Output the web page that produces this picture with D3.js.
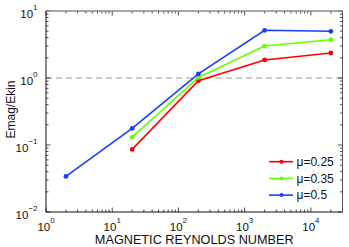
<!DOCTYPE html>
<html><head><meta charset="utf-8">
<script src="https://cdn.jsdelivr.net/npm/d3@7"></script>
<style>body{margin:0;background:#fff}svg{display:block;font-family:"Liberation Sans",Arial,sans-serif}</style>
</head><body><svg id="c" width="349" height="247"></svg>
<script>
const xs = [2, 20, 200, 2000, 20000];
const seriesNames = ["μ=0.25", "μ=0.35", "μ=0.5"];
const seriesColors = ["#ff0000", "#66ff00", "#1a3cff"];
const mu025 = [null, 0.086, 0.91, 1.86, 2.36];
const mu035 = [null, 0.131, 1.02, 3.0, 3.73];
const mu05 = [0.034, 0.177, 1.15, 5.15, 4.98];
const allSeries = [mu025, mu035, mu05];
const xTickExps = [0, 1, 2, 3, 4];
const yTickExps = [-2, -1, 0, 1];
const xDomain = [1, 30000];
const yDomain = [0.01, 10];

const svg = d3.select("#c");
const L = 46, R = 342.5, T = 11, B = 212;
const x = d3.scaleLog().domain(xDomain).range([L, R]);
const y = d3.scaleLog().domain(yDomain).range([B, T]);

svg.append("line").attr("x1", L).attr("x2", R).attr("y1", y(1)).attr("y2", y(1))
  .attr("stroke", "#999").attr("stroke-width", 1.2).attr("stroke-dasharray", "6,4");

const xMinor = [], yMinor = [];
for (let e = 0; e <= 4; e++) for (let m = 2; m <= 9; m++) { const v = m * Math.pow(10, e); if (v <= xDomain[1]) xMinor.push(v); }
for (let e = -2; e <= 0; e++) for (let m = 2; m <= 9; m++) yMinor.push(m * Math.pow(10, e));
const tk = svg.append("g").attr("stroke", "#222").attr("stroke-width", 0.8);
xMinor.forEach(v => { tk.append("line").attr("x1", x(v)).attr("x2", x(v)).attr("y1", B).attr("y2", B - 2.5);
  tk.append("line").attr("x1", x(v)).attr("x2", x(v)).attr("y1", T).attr("y2", T + 2.5); });
xTickExps.forEach(e => { const v = Math.pow(10, e); tk.append("line").attr("x1", x(v)).attr("x2", x(v)).attr("y1", B).attr("y2", B - 4.5);
  tk.append("line").attr("x1", x(v)).attr("x2", x(v)).attr("y1", T).attr("y2", T + 4.5); });
yMinor.forEach(v => { tk.append("line").attr("y1", y(v)).attr("y2", y(v)).attr("x1", L).attr("x2", L + 2.5);
  tk.append("line").attr("y1", y(v)).attr("y2", y(v)).attr("x1", R).attr("x2", R - 2.5); });
yTickExps.forEach(e => { const v = Math.pow(10, e); tk.append("line").attr("y1", y(v)).attr("y2", y(v)).attr("x1", L).attr("x2", L + 4.5);
  tk.append("line").attr("y1", y(v)).attr("y2", y(v)).attr("x1", R).attr("x2", R - 4.5); });

const line = d3.line().defined(d => d[1] != null).x(d => x(d[0])).y(d => y(d[1]));
allSeries.forEach((s, i) => {
  const pts = xs.map((v, j) => [v, s[j]]);
  svg.append("path").attr("d", line(pts)).attr("fill", "none").attr("stroke", seriesColors[i]).attr("stroke-width", 1.6);
  svg.selectAll(null).data(pts.filter(d => d[1] != null)).enter().append("circle")
    .attr("cx", d => x(d[0])).attr("cy", d => y(d[1])).attr("r", 2.4).attr("fill", seriesColors[i]);
});

svg.append("line").attr("x1", L).attr("x2", R).attr("y1", T).attr("y2", T).attr("stroke", "#888").attr("stroke-width", 1.5);
svg.append("line").attr("x1", R).attr("x2", R).attr("y1", T).attr("y2", B).attr("stroke", "#555").attr("stroke-width", 1);
svg.append("line").attr("x1", L).attr("x2", R).attr("y1", B).attr("y2", B).attr("stroke", "#111").attr("stroke-width", 1);
svg.append("line").attr("x1", L).attr("x2", L).attr("y1", T).attr("y2", B).attr("stroke", "#111").attr("stroke-width", 1);

xTickExps.forEach(e => {
  const t = svg.append("text").attr("x", x(Math.pow(10, e))).attr("y", 230.5).attr("text-anchor", "middle")
    .attr("font-size", 11.5).attr("fill", "#111");
  t.append("tspan").text("10");
  t.append("tspan").attr("dy", -7.5).attr("font-size", 8).text(e);
});
yTickExps.forEach(e => {
  const t = svg.append("text").attr("x", 37.5).attr("y", y(Math.pow(10, e)) + 7).attr("text-anchor", "end")
    .attr("font-size", 11.5).attr("fill", "#111");
  t.append("tspan").text("10");
  t.append("tspan").attr("dy", -8).attr("font-size", 8).text(e < 0 ? "\u2212" + Math.abs(e) : e);
});

svg.append("text").attr("x", (L + R) / 2).attr("y", 243.5).attr("text-anchor", "middle")
  .attr("font-size", 12.7).attr("fill", "#111").text("MAGNETIC REYNOLDS NUMBER");
svg.append("text").attr("transform", `translate(15,${(T + B) / 2 - 2}) rotate(-90)`).attr("text-anchor", "middle")
  .attr("font-size", 12).attr("fill", "#111").text("Emag/Ekin");

const lg = svg.append("g");
seriesNames.forEach((n, i) => {
  const yy = 161.7 + i * 16.7;
  lg.append("line").attr("x1", 269).attr("x2", 293).attr("y1", yy).attr("y2", yy).attr("stroke", seriesColors[i]).attr("stroke-width", 1.6);
  lg.append("circle").attr("cx", 281.5).attr("cy", yy).attr("r", 2).attr("fill", seriesColors[i]);
  lg.append("text").attr("x", 296.5).attr("y", yy + 4.3).attr("font-size", 12).attr("fill", "#111").text(n);
});
</script></body></html>
